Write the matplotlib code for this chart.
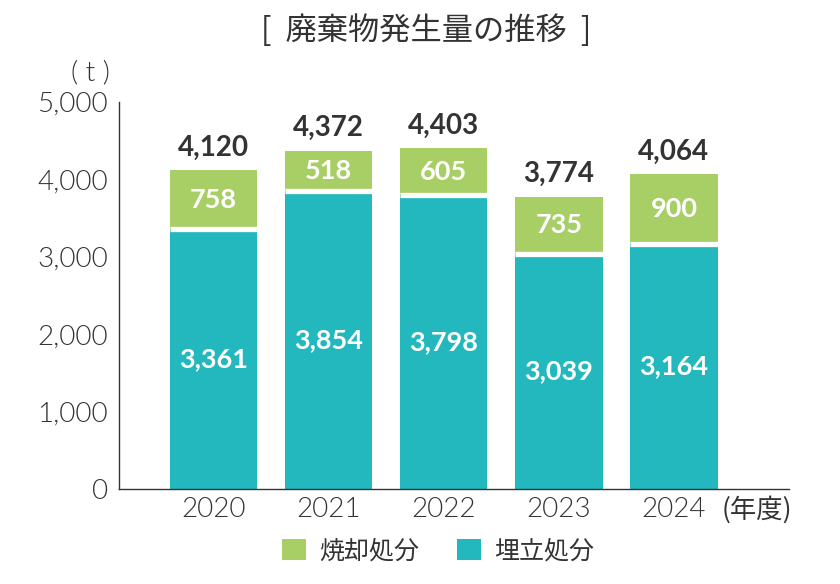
import matplotlib
matplotlib.use("Agg")
import matplotlib.pyplot as plt
from matplotlib.patches import Patch
import numpy as np

years = ["2020", "2021", "2022", "2023", "2024"]
landfill = [3361, 3854, 3798, 3039, 3164]      # 埋立処分
incineration = [758, 518, 605, 735, 900]       # 焼却処分
totals = [4120, 4372, 4403, 3774, 4064]
yticks = [0, 1000, 2000, 3000, 4000, 5000]

GREEN = "#a8cf66"
TEAL = "#23b8be"
DARK = "#333333"
NUM = ["Lato", "DejaVu Sans"]
JP = ["Noto Sans CJK JP", "DejaVu Sans"]

fig = plt.figure(figsize=(8.4, 5.84), dpi=100)
ax = fig.add_axes([119/840, 1-489/584, (789-119)/840, (489-102)/584])

x = np.arange(len(years))
w = 0.76
ax.bar(x, landfill, width=w, color=TEAL, zorder=2)
ax.bar(x, incineration, width=w, bottom=landfill, color=GREEN, zorder=2)
ax.hlines(landfill, x - w/2, x + w/2, colors="white", linewidth=3.8, zorder=3)

for xi, lf, inc, tot in zip(x, landfill, incineration, totals):
    ax.text(xi, lf/2, f"{lf:,}", ha="center", va="center", color="white",
            fontsize=19.5, fontweight="bold", family=NUM, zorder=4)
    ax.text(xi, lf + inc/2, f"{inc:,}", ha="center", va="center", color="white",
            fontsize=19.5, fontweight="bold", family=NUM, zorder=4)
    ax.annotate(f"{tot:,}", (xi, lf + inc), xytext=(0, 7), textcoords="offset points",
                ha="center", va="bottom", color=DARK, fontsize=20,
                fontweight="bold", family=NUM)

ax.set_xlim(-0.82, 5.0)
ax.set_ylim(0, 5000)
ax.set_xticks(x)
ax.set_xticklabels(years, family=NUM, fontsize=20, color=DARK, fontweight=300)
ax.set_yticks(yticks)
ax.set_yticklabels([f"{v:,}" for v in yticks], family=NUM, fontsize=20,
                   color=DARK, fontweight=300)
ax.tick_params(axis="both", length=0)
ax.tick_params(axis="y", pad=8)
ax.tick_params(axis="x", pad=6)
for s in ["top", "right"]:
    ax.spines[s].set_visible(False)
for s in ["left", "bottom"]:
    ax.spines[s].set_color(DARK)
    ax.spines[s].set_linewidth(1.0)
    ax.spines[s].set_zorder(5)

fig.text(426/840, 1-31/584, "[  廃棄物発生量の推移  ]", ha="center", va="center",
         fontsize=22.5, color=DARK, family=JP)
fig.text(110/840, 1-73/584, "( t )", ha="right", va="center", fontsize=20,
         color=DARK, family=NUM, fontweight=300)
fig.text(722/840, 1-510/584, "(年度)", ha="left", va="center", fontsize=19,
         color=DARK, family=JP)

handles = [Patch(facecolor=GREEN, label="焼却処分"), Patch(facecolor=TEAL, label="埋立処分")]
leg = fig.legend(handles=handles, loc="center", bbox_to_anchor=(438/840, 1-551/584),
                 ncol=2, frameon=False, prop={"family": JP, "size": 18},
                 handlelength=0.95, handleheight=0.95, handletextpad=0.55,
                 columnspacing=1.5)
for t in leg.get_texts():
    t.set_color(DARK)

fig.savefig("out.png", dpi=100)
